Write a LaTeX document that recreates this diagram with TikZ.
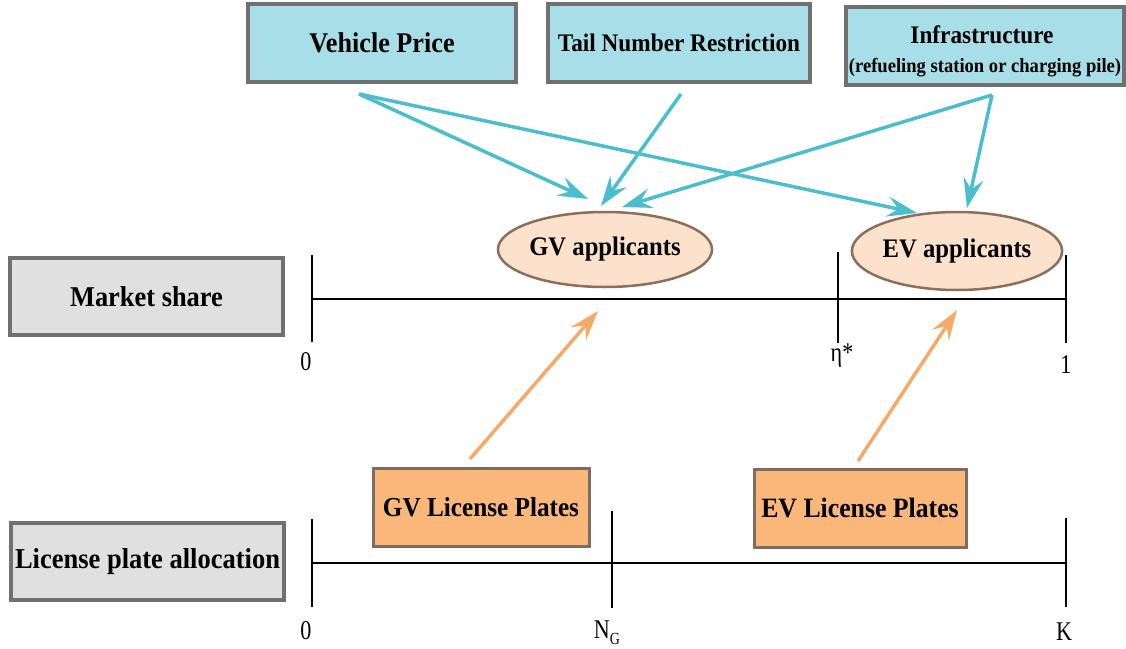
\documentclass[tikz,border=0pt]{standalone}
\usepackage{fontspec}
\setmainfont{Liberation Serif}[BoldFont={Liberation Serif Bold}, BoldFeatures={FakeStretch=0.92}]
\newfontfamily\lblfont{Liberation Serif}[FakeStretch=0.82]
\usetikzlibrary{arrows.meta,shapes.geometric}
\definecolor{cyanfill}{RGB}{168,222,232}
\definecolor{cyanline}{RGB}{75,190,205}
\definecolor{boxborder}{RGB}{112,112,112}
\definecolor{greyfill}{RGB}{224,224,224}
\definecolor{orangefill}{RGB}{249,183,122}
\definecolor{orangeborder}{RGB}{125,108,95}
\definecolor{peachfill}{RGB}{252,226,204}
\definecolor{peachborder}{RGB}{140,110,90}
\definecolor{orangeline}{RGB}{245,170,105}
\newcommand{\fsz}[1]{\fontsize{#1}{#1}\selectfont}
\tikzset{
  topbox/.style={draw=boxborder, line width=4pt, fill=cyanfill, rectangle, font=\bfseries, inner sep=0pt},
  sidebox/.style={draw=boxborder, line width=4pt, fill=greyfill, rectangle, font=\bfseries, inner sep=0pt, minimum width=273pt, minimum height=77pt},
  platebox/.style={draw=orangeborder, line width=3pt, fill=orangefill, rectangle, font=\bfseries, inner sep=0pt, minimum height=78pt},
  appl/.style={draw=peachborder, line width=2.5pt, fill=peachfill, ellipse, font=\bfseries, inner sep=0pt},
  boxtext/.style={font=\bfseries, inner sep=0pt},
  cyanarrow/.style={draw=cyanline, line width=3.5pt, -{Stealth[length=30pt,width=20pt,inset=11pt]}},
  orangearrow/.style={draw=orangeline, line width=3.5pt, -{Stealth[length=30pt,width=20pt,inset=11pt]}},
  axis/.style={draw=black, line width=2.5pt},
  tick/.style={draw=black, line width=1.5pt},
  lbl/.style={font=\lblfont\fsz{27}, inner sep=0pt}
}
\begin{document}
\begin{tikzpicture}[x=1pt,y=-1pt]
\useasboundingbox (0,0) rectangle (1126,648);

% top boxes
\node[topbox, minimum width=268pt, minimum height=78pt] (vp) at (382,43) {\fsz{28.5}Vehicle Price};
\node[topbox, minimum width=262pt, minimum height=78pt] (tn) at (679,43) {\fsz{25.3}Tail Number Restriction};
\node[topbox, minimum width=278pt, minimum height=78pt] (inf) at (985,46) {};
\node[boxtext] (infa) at (982,35) {\fsz{25.3}Infrastructure};
\node[boxtext] (infb) at (985,68) {\fsz{20.2}(refueling station or charging pile)};

% side boxes
\node[sidebox] (ms) at (146.5,296.5) {\fsz{28.7}Market share};
\node[sidebox] (lpa) at (147.5,561.5) {\fsz{28.8}License plate allocation};

% applicants
\node[appl, minimum width=184pt, minimum height=75pt] (gva) at (605,249.5) {\fsz{26.8}GV applicants};
\node[appl, minimum width=183pt, minimum height=78pt] (eva) at (957,251) {\fsz{26.8}EV applicants};

% plates
\node[platebox, minimum width=216pt] (gvp) at (481,507) {\fsz{27.4}GV License Plates};
\node[platebox, minimum width=212pt] (evp) at (860,508) {\fsz{28}EV License Plates};

% arrow end points
\coordinate (vps) at (359,94);
\coordinate (tns) at (681,94);
\coordinate (infs) at (992,95);
\coordinate (gvt1) at (588,199);
\coordinate (gvt2) at (601,206);
\coordinate (gvt3) at (622,207);
\coordinate (evt1) at (917,213);
\coordinate (evt2) at (967,208);
\coordinate (gvps) at (470,459);
\coordinate (evps) at (858,461);
\coordinate (gvat) at (598,311);
\coordinate (evat) at (957,310);

\draw[cyanarrow] (vps) -- (gvt1);
\draw[cyanarrow] (vps) -- (evt1);
\draw[cyanarrow] (tns) -- (gvt2);
\draw[cyanarrow] (infs) -- (gvt3);
\draw[cyanarrow] (infs) -- (evt2);
\draw[orangearrow] (gvps) -- (gvat);
\draw[orangearrow] (evps) -- (evat);

% market share axis
\coordinate (m0) at (312,299);
\coordinate (m1) at (1066,299);
\draw[axis] (m0) -- (m1);
\draw[tick] (312,255) -- (312,342);
\draw[tick] (838,252) -- (838,343);
\draw[tick] (1066,255) -- (1066,343);
\node[lbl] (l0) at (306,362) {0};
\node[lbl] (leta) at (842,356) {η*};
\node[lbl] (l1) at (1066,365) {1};

% license plate axis
\coordinate (p0) at (312,563);
\coordinate (p1) at (1066,563);
\draw[axis] (p0) -- (p1);
\draw[tick] (312,519) -- (312,607);
\draw[tick] (612,511) -- (612,608);
\draw[tick] (1066,518) -- (1066,607);
\node[lbl] (q0) at (306,631) {0};
\node[lbl] (qn) at (607,633) {N\raisebox{-0.5ex}{\fsz{17}G}};
\node[lbl] (qk) at (1064,632) {K};
\end{tikzpicture}
\end{document}
